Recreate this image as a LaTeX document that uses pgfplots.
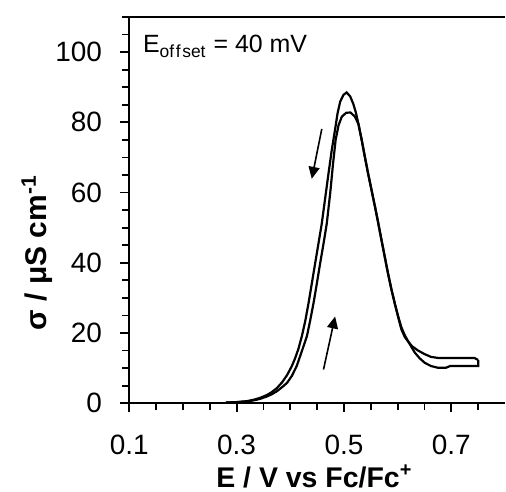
\documentclass[border=0pt]{standalone}
\usepackage{fontspec}
\setmainfont{Liberation Sans}
\usepackage{pgfplots}
\pgfplotsset{compat=1.18}
\usetikzlibrary{arrows.meta}

% forward scan (inner curve) and reverse scan (outer curve)
\pgfplotstableread{
E      s
0.280  0.2
0.300  0.3
0.320  0.5
0.335  0.9
0.345  1.3
0.356  1.9
0.365  2.5
0.375  3.4
0.385  4.6
0.394  5.8
0.403  7.8
0.412  10.6
0.4215 14.8
0.431  19.1
0.437  23.5
0.4433 28.5
0.4495 34.1
0.4557 39.9
0.462  45.5
0.468  51.2
0.4745 60.0
0.4795 68.0
0.4845 75.0
0.490  79.2
0.496  81.6
0.504  82.7
0.512  82.8
0.520  81.7
0.527  79.5
0.533  75.0
0.539  70.1
0.545  65.4
0.5515 60.6
0.558  55.8
0.564  51.2
0.570  46.4
0.576  41.7
0.582  37.0
0.5886 32.3
0.595  28.2
0.601  24.7
0.607  21.6
0.6135 19.3
0.620  17.5
0.627  16.2
0.638  15.0
0.650  14.0
0.662  13.2
0.675  12.9
0.700  12.9
0.720  12.9
0.743  12.9
0.750  12.3
}\fwd
\pgfplotstableread{
E      s
0.750  12.3
0.750  10.6
0.720  10.6
0.698  10.6
0.690  10.1
0.675  10.1
0.662  10.6
0.6505 11.5
0.641  12.8
0.632  14.4
0.620  17.5
0.6135 18.8
0.607  21.0
0.601  24.5
0.595  28.2
0.5886 32.3
0.582  37.0
0.576  41.7
0.570  46.4
0.564  51.2
0.558  55.8
0.5515 60.6
0.545  65.4
0.539  70.1
0.533  75.0
0.527  79.5
0.5225 82.6
0.5175 85.2
0.5115 87.4
0.505  88.5
0.499  87.8
0.493  85.9
0.488  82.5
0.4835 78.0
0.477  71.8
0.471  65.2
0.465  58.4
0.4587 51.2
0.4525 45.5
0.4464 39.9
0.440  34.0
0.434  28.5
0.428  23.5
0.4216 19.1
0.415  15.4
0.409  12.8
0.403  10.6
0.394  8.0
0.3845 5.9
0.375  4.3
0.365  3.1
0.356  2.3
0.345  1.6
0.335  1.1
0.320  0.6
0.300  0.3
0.280  0.2
}\rev

\begin{document}
\begin{tikzpicture}
\begin{axis}[
    scale only axis, width=188.25pt, height=193.5pt,
    xmin=0.1, xmax=0.8, ymin=0, ymax=110,
    axis lines*=left,
    axis line style={line width=1pt},
    clip=false,
    xtick={0.1,0.3,0.5,0.7},
    minor xtick={0.15,0.2,0.25,0.35,0.4,0.45,0.55,0.6,0.65,0.75},
    ytick={0,20,...,100},
    minor ytick={5,10,15,25,30,35,45,50,55,65,70,75,85,90,95,105,110},
    tick align=outside,
    major tick length=4.5pt, minor tick length=3.5pt,
    tick style={line width=0.9pt, black},
    /pgf/number format/assume math mode=true,
    tick label style={font=\fontsize{14}{16}\selectfont},
    xticklabel style={anchor=north, inner sep=0pt, yshift=-11pt},
    yticklabel style={anchor=east, inner sep=0pt, xshift=-9pt},
]
\addplot[black, line width=1.1pt] table[x=E, y=s] {\fwd};
\addplot[black, line width=1.1pt] table[x=E, y=s] {\rev};
\draw[line width=1pt] (rel axis cs:0,1) -- (rel axis cs:1,1);
% axis titles
\node[anchor=base, inner sep=0pt, font=\fontsize{14.25}{16}\selectfont\bfseries]
    at ([yshift=-42pt]rel axis cs:0.4927,0) {E / V vs Fc/Fc\textsuperscript{+}};
\node[anchor=base, inner sep=0pt, rotate=90, font=\fontsize{15}{17}\selectfont\bfseries]
    at ([xshift=-41.5pt]rel axis cs:0,0.39) {σ / μS cm\textsuperscript{-1}};
\node[anchor=base west, inner sep=0pt, font=\fontsize{12.5}{14}\selectfont]
    at (axis cs:0.125,99.8) {E\textsubscript{of\kern0.8pt f\kern0.8pt set} = 40 mV};
\draw[-{Triangle[length=6pt,width=5.5pt]}, line width=0.8pt]
    (axis cs:0.4587,78.1) -- (axis cs:0.440,63.9);
\draw[-{Triangle[length=6pt,width=5.5pt]}, line width=0.8pt]
    (axis cs:0.4619,9.6) -- (axis cs:0.4835,24.7);
\end{axis}
\path ([xshift=-64.75pt,yshift=-44pt]current axis.south west)
    rectangle ([yshift=8.5pt]current axis.north east);
\end{tikzpicture}
\end{document}
